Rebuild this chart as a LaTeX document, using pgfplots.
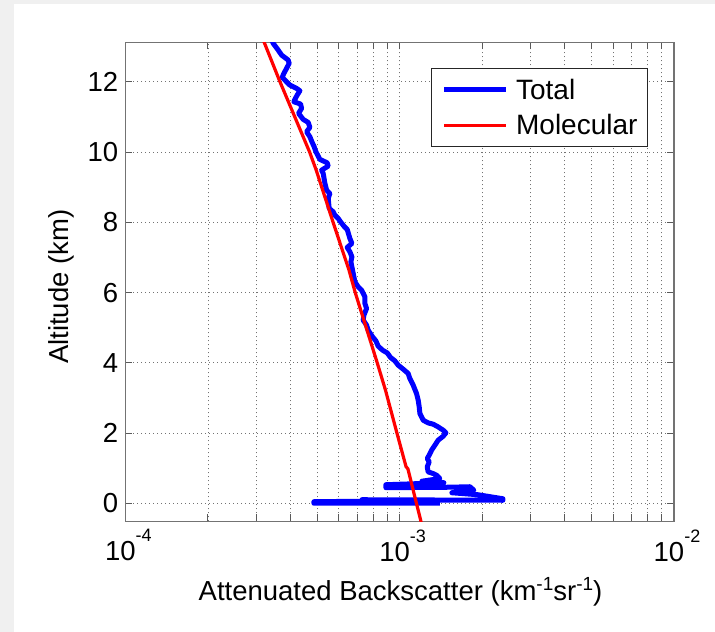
\documentclass[border=0pt]{standalone}
\usepackage{pgfplots}
\pgfplotsset{compat=1.18}
\usepackage{fontspec}
\setmainfont{Liberation Sans}
\definecolor{figbg}{RGB}{240,240,240}
\newcommand{\tl}[1]{10\raisebox{19bp}{\fontsize{18bp}{18bp}\selectfont -#1}}
\newcommand{\sx}[1]{\raisebox{9.5bp}{\fontsize{19bp}{19bp}\selectfont #1}}
\begin{document}
\begin{tikzpicture}[font=\fontsize{27.5bp}{33bp}\selectfont]
\fill[figbg] (0,0) rectangle (715bp,632bp);
\fill[white] (14bp,0) rectangle (715bp,628bp);
\begin{axis}[
  at={(125.4bp,110.5bp)}, anchor=south west,
  width=548.6bp, height=479.3bp, scale only axis,
  xmode=log, xmin=1e-4, xmax=1e-2,
  ymin=-0.52, ymax=13.13,
  xtick={1e-4,1e-3,1e-2},
  xticklabels={\tl{4},\tl{3},\tl{2}},
  ytick={0,2,4,6,8,10,12},
  /pgf/number format/assume math mode=true,
  tick label style={font=\fontsize{27.5bp}{33bp}\selectfont, black},
  yticklabel style={inner sep=0pt, anchor=east, xshift=-7bp},
  xticklabel style={inner sep=0pt, anchor=north, yshift=-7.8bp, xshift=3bp},
  xlabel={Attenuated Backscatter (km\sx{-1}sr\sx{-1})},
  ylabel={Altitude (km)},
  xlabel style={at={(axis description cs:0.5015,-0.1638)}, anchor=base, inner sep=0pt},
  ylabel style={at={(axis description cs:-0.1041,0.4899)}, anchor=base, inner sep=0pt},
  major tick length=7bp, minor tick length=7bp,
  tick style={black!65, line width=1bp},
  axis line style={black!55, line width=1.2bp},
  xmajorgrids, xminorgrids, ymajorgrids,
  major grid style={black!55, line width=0.9bp, dash pattern=on 1bp off 3bp},
  minor grid style={black!55, line width=0.9bp, dash pattern=on 1bp off 3bp},
  legend style={at={(axis description cs:0.5571,0.9455)}, anchor=north west,
    draw=black!85, line width=1bp, fill=white, inner xsep=10bp, inner ysep=10bp,
    row sep=14bp, column sep=8bp, nodes={inner sep=0pt},
    font=\fontsize{28bp}{33bp}\selectfont},
  legend cell align=left,
  legend image code/.code={\draw[#1] (0bp,0bp) -- (61.6bp,0bp);},
]
\addplot[blue, line width=5bp, line join=round] coordinates {
(3.42e-4,13.2) (3.458e-4,13.097) (3.606e-4,12.906) (3.710e-4,12.764) (3.922e-4,12.621)
(3.955e-4,12.527) (3.870e-4,12.385) (3.783e-4,12.242) (3.729e-4,12.128) (3.978e-4,11.909)
(4.208e-4,11.815) (4.327e-4,11.746) (4.230e-4,11.624) (4.149e-4,11.501) (4.115e-4,11.433)
(4.352e-4,11.368) (4.389e-4,11.245) (4.279e-4,11.103) (4.448e-4,10.932) (4.639e-4,10.846)
(4.706e-4,10.704) (4.577e-4,10.578) (4.706e-4,10.436) (4.786e-4,10.293) (4.867e-4,10.171)
(4.950e-4,10.009) (5.119e-4,9.792) (5.441e-4,9.695) (5.487e-4,9.601) (5.192e-4,9.487)
(5.262e-4,9.393) (5.338e-4,9.108) (5.414e-4,8.917) (5.566e-4,8.823) (5.487e-4,8.681)
(5.534e-4,8.396) (5.723e-4,8.299) (5.805e-4,8.205) (5.968e-4,8.111) (6.089e-4,8.014)
(6.261e-4,7.892) (6.437e-4,7.798) (6.513e-4,7.664) (6.584e-4,7.541) (6.696e-4,7.399)
(6.437e-4,7.285) (6.584e-4,7.160) (6.696e-4,7.017) (6.640e-4,6.875) (6.696e-4,6.732)
(6.770e-4,6.544) (6.867e-4,6.305) (7.060e-4,6.162) (7.264e-4,6.068) (7.468e-4,5.878)
(7.468e-4,5.689) (7.575e-4,5.547) (7.405e-4,5.356) (7.361e-4,5.214) (7.575e-4,5.071)
(7.676e-4,4.929) (7.966e-4,4.738) (8.189e-4,4.624) (8.349e-4,4.473) (8.662e-4,4.359)
(9.004e-4,4.282) (9.265e-4,4.151) (9.605e-4,4.054) (9.874e-4,3.932) (1.030e-3,3.818)
(1.074e-3,3.695) (1.089e-3,3.553) (1.120e-3,3.362) (1.152e-3,3.125) (1.168e-3,2.934)
(1.178e-3,2.744) (1.185e-3,2.556) (1.218e-3,2.365) (1.270e-3,2.288) (1.325e-3,2.251)
(1.381e-3,2.174) (1.441e-3,2.080) (1.474e-3,2.003) (1.441e-3,1.909) (1.381e-3,1.795)
(1.344e-3,1.652) (1.307e-3,1.510) (1.281e-3,1.368) (1.260e-3,1.274) (1.281e-3,1.177)
(1.260e-3,1.034) (1.270e-3,0.892) (1.325e-3,0.846) (1.363e-3,0.798) (1.401e-3,0.704)
(1.205e-3,0.627) (1.449e-3,0.584) (8.906e-4,0.527) (8.906e-4,0.442) (1.524e-3,0.456)
(1.803e-3,0.470) (1.865e-3,0.370) (1.550e-3,0.299) (1.928e-3,0.242) (2.378e-3,0.128)
(2.378e-3,0.085) (7.282e-4,0.100) (7.282e-4,0.057) (4.867e-4,0.043) (4.867e-4,0.000)
(1.401e-3,0.000)
};
\addlegendentry{Total}
\addplot[red, line width=3.2bp, line join=round] coordinates {
(3.141e-4,13.3) (3.203e-4,13.134) (3.661e-4,12.003) (4.694e-4,10.003) (4.962e-4,9.487)
(5.711e-4,8.014) (6.535e-4,6.638) (6.883e-4,6.003) (8.279e-4,4.003) (8.877e-4,3.219)
(9.768e-4,2.003) (1.055e-3,1.040) (1.071e-3,0.983) (1.151e-3,0.000) (1.195e-3,-0.513)
(1.202e-3,-0.6)
};
\addlegendentry{Molecular}
\end{axis}
\pgfresetboundingbox
\useasboundingbox (0,0) rectangle (715bp,632bp);
\end{tikzpicture}
\end{document}
